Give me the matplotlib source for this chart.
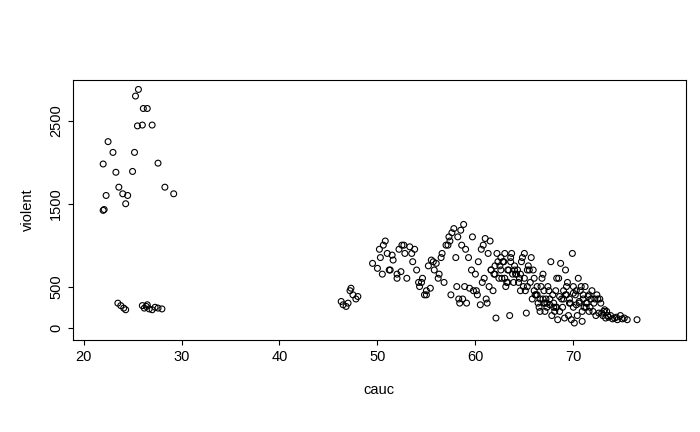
import matplotlib
matplotlib.use("Agg")
import matplotlib.pyplot as plt

plt.rcParams["font.family"] = ["Liberation Sans", "DejaVu Sans"]

cauc = [
    22.0, 22.0, 22.1, 22.3, 22.5, 23.0, 23.3, 23.6, 24.0, 24.3, 24.5, 25.0,
    25.2, 25.3, 25.5, 25.6, 26.0, 26.1, 26.5, 27.0, 27.6, 28.3, 29.2,
    23.5, 23.8, 24.1, 24.3, 26.0, 26.2, 26.4, 26.7, 27.0, 27.3, 27.6, 28.0, 26.5,
    46.3, 46.5, 46.8, 47.0, 47.2, 47.3, 47.5, 47.8, 48.0,
    49.5, 50.0, 50.3, 50.6, 50.8, 51.0, 51.3, 51.6, 52.0, 52.2, 52.5, 52.8,
    53.0, 53.3, 53.6, 54.0, 54.3, 54.6, 55.0, 55.2, 55.5, 55.8, 56.0, 56.3,
    56.6, 57.0, 57.3, 57.6, 57.8, 58.0, 58.2, 58.5, 58.8, 59.0, 59.3, 59.6,
    60.0, 60.3, 60.6, 61.0, 61.3, 61.6, 62.0, 62.3, 62.6, 63.0, 63.3, 63.6,
    64.0, 64.3, 64.6, 65.0, 65.3, 65.6, 66.0, 66.3, 66.6, 67.0, 67.3, 67.6,
    68.0, 68.3, 68.6, 69.0, 69.3, 69.6, 70.0, 70.3, 70.6, 71.0, 71.3, 71.6,
    72.0, 72.3, 72.6, 73.0, 73.3, 73.6, 74.0, 74.5, 75.0, 75.5, 76.5,
    50.5, 51.2, 52.4, 53.5, 54.2, 55.4, 56.2, 57.2, 58.1, 58.7, 59.4, 60.2,
    61.1, 61.8, 62.4, 63.1, 63.8, 64.4, 65.1, 65.8, 66.4, 67.1, 67.8, 68.4,
    69.1, 69.8, 70.4, 71.1, 71.8, 72.4, 73.1, 73.8,
    52.0, 54.8, 56.8, 58.4, 59.8, 61.4, 62.8, 63.4, 64.2, 65.4, 66.2, 66.8,
    67.4, 68.2, 68.8, 69.4, 70.2, 70.8, 71.4, 72.2, 72.8, 73.4,
    57.5, 58.3, 59.1, 60.5, 61.9, 62.2, 63.2, 64.8, 65.9, 66.9, 67.7, 68.7,
    69.2, 69.9, 70.5, 71.2, 71.9, 72.7, 74.2, 74.8,
    55.0, 58.9, 60.9, 62.6, 63.9, 64.9, 66.1, 67.2, 68.1, 69.5, 70.1, 70.9,
    62.1, 63.5, 65.2, 66.5, 67.5, 68.5, 69.3, 70.7, 71.5,
    50.2, 51.5, 52.7, 53.8, 54.5, 55.7, 56.5, 57.4, 58.6, 59.7, 60.8, 61.5,
    62.5, 63.0, 63.7, 64.1, 64.7, 65.5, 66.0, 66.7, 67.0, 67.6, 68.0, 68.6,
    69.0, 69.7, 70.0, 70.6, 71.0, 71.7, 72.1, 72.9, 73.5, 74.4,
    60.1, 60.7, 61.2, 62.0, 62.9, 63.3, 64.0, 64.5, 65.0, 65.7, 66.3, 66.9,
    67.3, 67.9, 68.3, 68.9, 69.6, 70.3, 70.9, 71.3, 72.5, 73.2,
    61.6, 62.7, 63.6, 64.6, 65.3, 66.6, 67.1, 68.2, 69.2, 70.0, 71.6, 75.2,
]
violent = [
    1980, 1420, 1430, 1600, 2250, 2120, 1880, 1700, 1620, 1500, 1600, 1890,
    2120, 2800, 2440, 2880, 2450, 2650, 2650, 2450, 1990, 1700, 1620,
    300, 270, 240, 220, 270, 240, 260, 230, 220, 250, 240, 230, 280,
    320, 280, 260, 300, 450, 480, 400, 350, 380,
    780, 720, 850, 1000, 1050, 900, 700, 820, 650, 950, 1000, 900,
    600, 980, 800, 700, 500, 600, 450, 750, 820, 700, 780, 650,
    900, 1000, 1100, 1150, 1200, 850, 1100, 1180, 1250, 950, 850, 700,
    650, 800, 950, 1080, 900, 700, 750, 800, 850, 900, 700, 800,
    750, 700, 650, 600, 500, 550, 450, 400, 350, 300, 250, 280,
    300, 250, 200, 350, 400, 300, 250, 280, 300, 350, 250, 200,
    200, 150, 180, 150, 120, 130, 110, 100, 110, 100, 100,
    650, 700, 680, 900, 550, 480, 600, 1000, 500, 350, 480, 400,
    350, 450, 600, 500, 650, 550, 450, 350, 300, 200, 150, 100,
    120, 100, 150, 250, 350, 400, 200, 150,
    600, 400, 550, 300, 450, 500, 800, 700, 650, 750, 400, 600,
    500, 450, 350, 550, 400, 500, 300, 350, 300, 200,
    400, 350, 300, 280, 650, 900, 550, 850, 700, 650, 800, 780,
    700, 900, 600, 500, 450, 350, 120, 150,
    400, 500, 600, 700, 550, 500, 400, 350, 200, 150, 60, 80,
    120, 150, 180, 250, 450, 600, 500, 450, 380,
    950, 880, 1000, 950, 550, 800, 850, 1050, 1000, 1100, 1000, 1050,
    750, 600, 900, 650, 800, 700, 600, 500, 450, 350, 250, 380,
    450, 300, 420, 320, 400, 250, 300, 180, 150, 130,
    450, 550, 300, 650, 800, 550, 700, 600, 900, 850, 500, 350,
    300, 400, 600, 250, 350, 450, 200, 300, 350, 220,
    700, 600, 850, 450, 700, 200, 300, 250, 400, 500, 400, 120,
]

fig = plt.figure(figsize=(7, 4.32), dpi=100)
ax = fig.add_axes([0.104, 0.213, 0.876, 0.602])
ax.scatter(cauc, violent, s=18, facecolors="none", edgecolors="black", linewidths=0.8)
ax.set_xlim(18.9, 81.5)
ax.set_ylim(-145, 2995)
ax.set_xticks([20, 30, 40, 50, 60, 70])
ax.set_yticks([0, 500, 1500, 2500])
ax.tick_params(axis="both", labelsize=10.5)
ax.tick_params(axis="y", labelrotation=90)
for lab in ax.get_yticklabels():
    lab.set_va("center")
ax.set_xlabel("cauc", fontsize=10.5, labelpad=14)
ax.set_ylabel("violent", fontsize=10.5, labelpad=10)
fig.savefig("out.png")
